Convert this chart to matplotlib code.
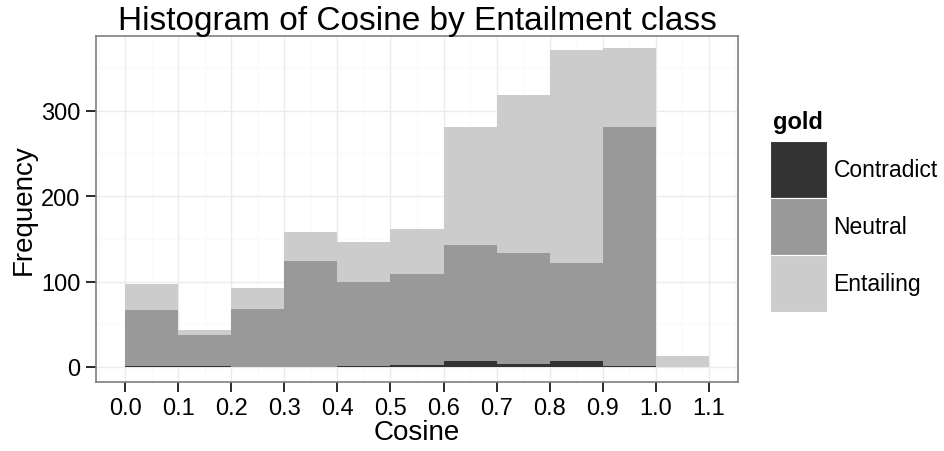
import numpy as np
import matplotlib
matplotlib.use('Agg')
import matplotlib.pyplot as plt
from matplotlib.patches import Patch

plt.rcParams['font.family'] = ['Liberation Sans', 'DejaVu Sans']

bin_left = [0.0, 0.1, 0.2, 0.3, 0.4, 0.5, 0.6, 0.7, 0.8, 0.9, 1.0]
contradict = [1, 1, 0, 0, 1, 2, 7, 3, 7, 1, 0]
neutral = [66, 36, 68, 124, 98, 107, 136, 130, 115, 280, 0]
entailing = [30, 6, 24, 34, 47, 53, 138, 185, 249, 92, 13]

classes = ['Contradict', 'Neutral', 'Entailing']
colors = ['#333333', '#999999', '#CCCCCC']
x_ticks = [0.0, 0.1, 0.2, 0.3, 0.4, 0.5, 0.6, 0.7, 0.8, 0.9, 1.0, 1.1]
y_ticks = [0, 100, 200, 300]

fig = plt.figure(figsize=(9.45, 4.52), dpi=100)
ax = fig.add_axes([96 / 945, 1 - 383 / 452, 642 / 945, 346 / 452])

ax.set_xlim(-0.055, 1.155)
ax.set_ylim(-17.6, 387.4)

# grid like theme_bw
for v in np.arange(-0.05, 1.2, 0.1):
    ax.axvline(v, color='#FAFAFA', lw=1, zorder=0)
for v in [50, 150, 250, 350]:
    ax.axhline(v, color='#FAFAFA', lw=1, zorder=0)
for v in x_ticks:
    ax.axvline(v, color='#EBEBEB', lw=1, zorder=0.5)
for v in y_ticks:
    ax.axhline(v, color='#EBEBEB', lw=1, zorder=0.5)

bottom = np.zeros(len(bin_left))
for vals, c in zip([contradict, neutral, entailing], colors):
    ax.bar(bin_left, vals, width=0.1, align='edge', bottom=bottom, color=c,
           edgecolor='none', linewidth=0, zorder=2)
    bottom += np.array(vals)

ax.set_xticks(x_ticks)
ax.set_xticklabels(['%.1f' % t for t in x_ticks])
ax.set_yticks(y_ticks)
ax.tick_params(axis='both', length=7, width=1.3, color='#1A1A1A',
               labelsize=17, labelcolor='black', pad=4)
for s in ax.spines.values():
    s.set_color('#7F7F7F')
    s.set_linewidth(1.2)

ax.set_xlabel('Cosine', fontsize=20, labelpad=0)
ax.set_ylabel('Frequency', fontsize=20, labelpad=3)
ax.set_title('Histogram of Cosine by Entailment class', fontsize=24, pad=4)

handles = [Patch(facecolor=c, edgecolor='white', linewidth=0.8, label=l)
           for l, c in zip(classes, colors)]
leg = fig.legend(handles=handles, loc='upper left',
                 bbox_to_anchor=(759 / 945, 1 - 131 / 452), frameon=False,
                 fontsize=16.5, handlelength=2.45, handleheight=3.45,
                 handletextpad=0.3, labelspacing=0.0, borderpad=0)
fig.text(773 / 945, 1 - 129 / 452, 'gold', fontsize=17, fontweight='bold',
         ha='left', va='baseline')

fig.savefig('out.png', dpi=100)
